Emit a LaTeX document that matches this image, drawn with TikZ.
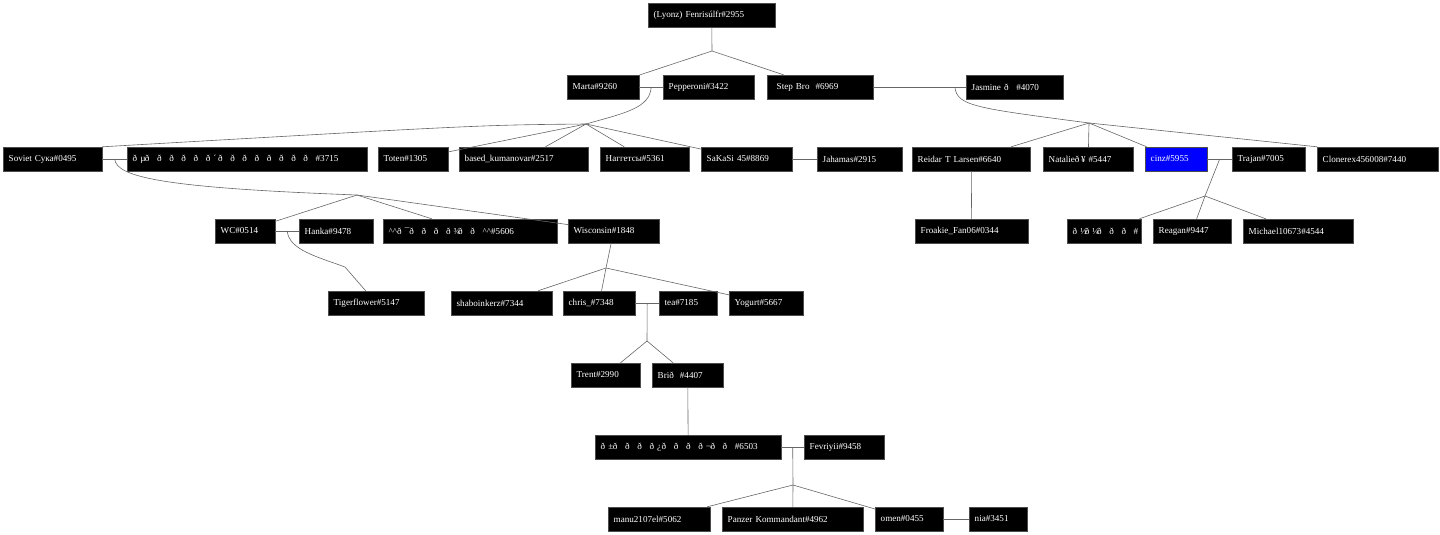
\documentclass[tikz,border=0pt]{standalone}
\usepackage{fontspec}
\setmainfont{Liberation Serif}
\usetikzlibrary{calc}
\newcommand{\emj}[1]{\makebox[12.2pt][l]{ð~#1}}

\begin{document}
\begin{tikzpicture}[x=1pt,y=-1pt,font=\fontsize{9.1}{10.5}\selectfont,
  member/.style={fill=black,draw=black!70,line width=0.4pt,text=white,anchor=west,
    minimum height=24pt,inner xsep=5.5pt,inner ysep=0pt,align=left,text width=#1},
  link/.style={draw=black!60,line width=0.6pt}]
\useasboundingbox (0,0) rectangle (1440,535);
% generation 1
\node[member=116pt] (fenris) at (648,15) {(Lyonz) Fenrisúlfr\#2955};
% generation 2
\node[member=61pt] (marta) at (567,87) {Marta\#9260};
\node[member=80pt] (pepperoni) at (663,87) {Pepperoni\#3422};
\node[member=95pt] (stepbro) at (767,87) {\kern4pt Step Bro\kern6pt\#6969};
\node[member=86pt] (jasmine) at (966,87) {Jasmine \emj{}\#4070};
% generation 3
\node[member=88pt] (soviet) at (3,159) {Soviet Сука\#0495};
\node[member=229pt] (eth3715) at (127,159) {\emj{µ}\emj{}\emj{}\emj{}\emj{}\emj{}\emj{´}\emj{}\emj{}\emj{}\emj{}\emj{}\emj{}\emj{}\emj{}\#3715};
\node[member=59pt] (toten) at (378,159) {Toten\#1305};
\node[member=118pt] (based) at (459,159) {based\_kumanovar\#2517};
\node[member=78pt] (nagg) at (600,159) {Наггетсы\#5361};
\node[member=80pt] (sakasi) at (701,159) {SaKaSi 45\#8869};
\node[member=74pt] (jahamas) at (817,159) {Jahamas\#2915};
\node[member=107pt] (reidar) at (912,159) {Reidar T Larsen\#6640};
\node[member=79pt] (natalie) at (1043,159) {Natalieð\kern1.5pt¥~\#5447};
\node[member=51pt,fill=blue] (cinz) at (1145,159) {cinz\#5955};
\node[member=62pt] (trajan) at (1232,159) {Trajan\#7005};
\node[member=110pt] (clonerex) at (1317,159) {Clonerex456008\#7440};
% generation 4
\node[member=49pt] (wc) at (215,231) {WC\#0514};
\node[member=63pt] (hanka) at (299,231) {Hanka\#9478};
\node[member=163pt] (caret) at (383,231) {\textasciicircum\textasciicircum\emj{¯}\emj{}\emj{}\emj{}\emj{¾}\emj{}\emj{}\textasciicircum\textasciicircum\#5606};
\node[member=80pt] (wisconsin) at (568,231) {Wisconsin\#1848};
\node[member=102pt] (froakie) at (915,231) {Froakie\_Fan06\#0344};
\node[member=63pt] (ethcut) at (1067,231) {\emj{½}\emj{¼}\emj{}\emj{}\emj{}\#};
\node[member=67pt] (reagan) at (1153,231) {Reagan\#9447};
\node[member=99pt] (michael) at (1243,231) {Michael10673\#4544};
% generation 5
\node[member=85pt] (tiger) at (328,303) {Tigerflower\#5147};
\node[member=90pt] (shabo) at (451,303) {shaboinkerz\#7344};
\node[member=61pt] (chris) at (563,303) {chris\_\#7348};
\node[member=47pt] (tea) at (659,303) {tea\#7185};
\node[member=63pt] (yogurt) at (729,303) {Yogurt\#5667};
% generation 6
\node[member=58pt] (trent) at (571,375) {Trent\#2990};
\node[member=60pt] (brid) at (652,375) {Brið~~\#4407};
% generation 7
\node[member=175pt] (eth6503) at (595,447) {\emj{±}\emj{}\emj{}\emj{}\emj{¿}\emj{}\emj{}\emj{}\emj{¬}\emj{}\emj{}\#6503};
\node[member=69pt] (fevriyii) at (804,447) {Fevriyii\#9458};
% generation 8
\node[member=91pt] (manu) at (608,519) {manu2107el\#5062};
\node[member=130pt] (panzer) at (722,519) {Panzer Kommandant\#4962};
\node[member=57pt] (omen) at (875,519) {omen\#0455};
\node[member=47pt] (nia) at (969,519) {nia\#3451};
% marriage points and junctions
\coordinate (mmarta) at ($(marta.east)!0.5!(pepperoni.west)$);
\coordinate (mstep) at ($(stepbro.east)!0.88!(jasmine.west)$);
\coordinate (msov) at ($(soviet.east)!0.5!(eth3715.west)$);
\coordinate (mwc) at ($(wc.east)!0.5!(hanka.west)$);
\coordinate (mcinz) at ($(cinz.east)!0.5!(trajan.west)$);
\coordinate (mchris) at ($(chris.east)!0.5!(tea.west)$);
\coordinate (meth) at ($(eth6503.east)!0.5!(fevriyii.west)$);
\coordinate (jfen) at (712,51);
\coordinate (jmarta) at (586,124);
\coordinate (jstep) at (1089,123);
\coordinate (jsov) at (357,195);
\coordinate (jwc) at (345,267);
\coordinate (jcinz) at (1205,196);
\coordinate (jwis) at (606,268);
\coordinate (jchris) at (647,341);
\coordinate (jeth) at (793,485);
% lines
\draw[link] (fenris) -- (jfen);
\draw[link] (jfen) -- (marta);
\draw[link] (jfen) -- (stepbro);
\draw[link] (marta) -- (pepperoni);
\draw[link] (mmarta) .. controls (650,108) and (625,113) .. (jmarta);
\draw[link] (jmarta) .. controls (480,125) .. (soviet.north east);
\foreach \kid in {toten,based,nagg,sakasi} \draw[link] (jmarta) -- (\kid);
\draw[link] (sakasi) -- (jahamas);
\draw[link] (stepbro) -- (jasmine);
\draw[link] (mstep) .. controls (957,106) and (975,108) .. (jstep);
\foreach \kid in {reidar,natalie,cinz} \draw[link] (jstep) -- (\kid);
\draw[link] (jstep) -- (clonerex.north west);
\draw[link] (reidar) -- (froakie);
\draw[link] (cinz) -- (trajan);
\draw[link] (mcinz) -- (jcinz);
\foreach \kid in {ethcut,reagan,michael} \draw[link] (jcinz) -- (\kid);
\draw[link] (soviet) -- (eth3715);
\draw[link] (msov) .. controls (116,178) and (170,188) .. (jsov);
\foreach \kid in {wc,caret,wisconsin} \draw[link] (jsov) -- (\kid);
\draw[link] (wc) -- (hanka);
\draw[link] (mwc) .. controls (289,250) and (318,257) .. (jwc) -- (tiger);
\draw[link] (wisconsin) -- (jwis);
\foreach \kid in {shabo,chris,yogurt} \draw[link] (jwis) -- (\kid);
\draw[link] (chris) -- (tea);
\draw[link] (mchris) -- (jchris);
\foreach \kid in {trent,brid} \draw[link] (jchris) -- (\kid);
\draw[link] (brid) -- (eth6503);
\draw[link] (eth6503) -- (fevriyii);
\draw[link] (meth) -- (jeth);
\foreach \kid in {manu,panzer,omen} \draw[link] (jeth) -- (\kid);
\draw[link] (omen) -- (nia);
\end{tikzpicture}
\end{document}
